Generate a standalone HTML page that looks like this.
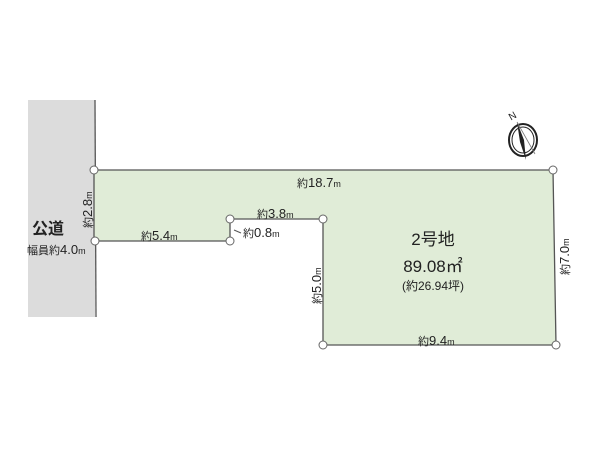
<!DOCTYPE html>
<html><head><meta charset="utf-8"><style>
body{margin:0;background:#fff;width:600px;height:450px;overflow:hidden}
text{font-family:"Liberation Sans","Noto Sans CJK JP",sans-serif;fill:#222}
</style></head><body>
<svg width="600" height="450" viewBox="0 0 600 450">
<rect x="28" y="100" width="67" height="217" fill="#dcdcdc"/>
<line x1="95" y1="100" x2="96" y2="317" stroke="#555" stroke-width="1.3"/>
<polygon points="94,170 553,170 556,345 323,345 323,219 230,219 230,241 94,241" fill="#e0ecd7" stroke="#555" stroke-width="1.3"/>
<g fill="#fff" stroke="#666" stroke-width="1">
<circle cx="94" cy="170" r="4"/><circle cx="553" cy="170" r="4"/><circle cx="556" cy="345" r="4"/>
<circle cx="323" cy="345" r="4"/><circle cx="323" cy="219" r="4"/><circle cx="230" cy="219" r="4"/>
<circle cx="230" cy="241" r="4"/><circle cx="95" cy="241" r="4"/>
</g>
<line x1="230" y1="225" x2="230" y2="235" stroke="#555"/>
<line x1="234" y1="230" x2="241" y2="233" stroke="#555"/>
<g font-size="13">
<text x="297" y="187"><tspan font-size="11">約</tspan>18.7<tspan font-size="9">m</tspan></text>
<text x="257" y="218"><tspan font-size="11">約</tspan>3.8<tspan font-size="9">m</tspan></text>
<text x="243" y="237"><tspan font-size="11">約</tspan>0.8<tspan font-size="9">m</tspan></text>
<text x="141" y="240"><tspan font-size="11">約</tspan>5.4<tspan font-size="9">m</tspan></text>
<text x="418" y="345"><tspan font-size="11">約</tspan>9.4<tspan font-size="9">m</tspan></text>
<text transform="translate(92,228) rotate(-90)"><tspan font-size="11">約</tspan>2.8<tspan font-size="9">m</tspan></text>
<text transform="translate(321,304) rotate(-90)"><tspan font-size="11">約</tspan>5.0<tspan font-size="9">m</tspan></text>
<text transform="translate(569,275) rotate(-90)"><tspan font-size="11">約</tspan>7.0<tspan font-size="9">m</tspan></text>
<text x="27" y="254"><tspan font-size="11">幅員約</tspan>4.0<tspan font-size="9">m</tspan></text>
</g>
<text x="32" y="234" font-size="16" font-weight="bold">公道</text>
<text x="433" y="245" font-size="17" text-anchor="middle">2号地</text>
<text x="433" y="272" font-size="17" text-anchor="middle">89.08㎡</text>
<text x="433" y="290" font-size="12" text-anchor="middle">(約26.94坪)</text>
<g transform="translate(523,140)">
<ellipse rx="14" ry="16" fill="none" stroke="#222" stroke-width="2"/>
<ellipse rx="11" ry="13" fill="none" stroke="#222" stroke-width="1"/>
<polygon points="-6,-18 -3,2 3,20 1,0" fill="#222"/>
<line x1="-6" y1="-18" x2="12" y2="14" stroke="#777" stroke-width="0.8"/>
<text x="-14" y="-21" font-size="10" transform="rotate(-30 -10 -24)">N</text>
</g>
</svg>
</body></html>
